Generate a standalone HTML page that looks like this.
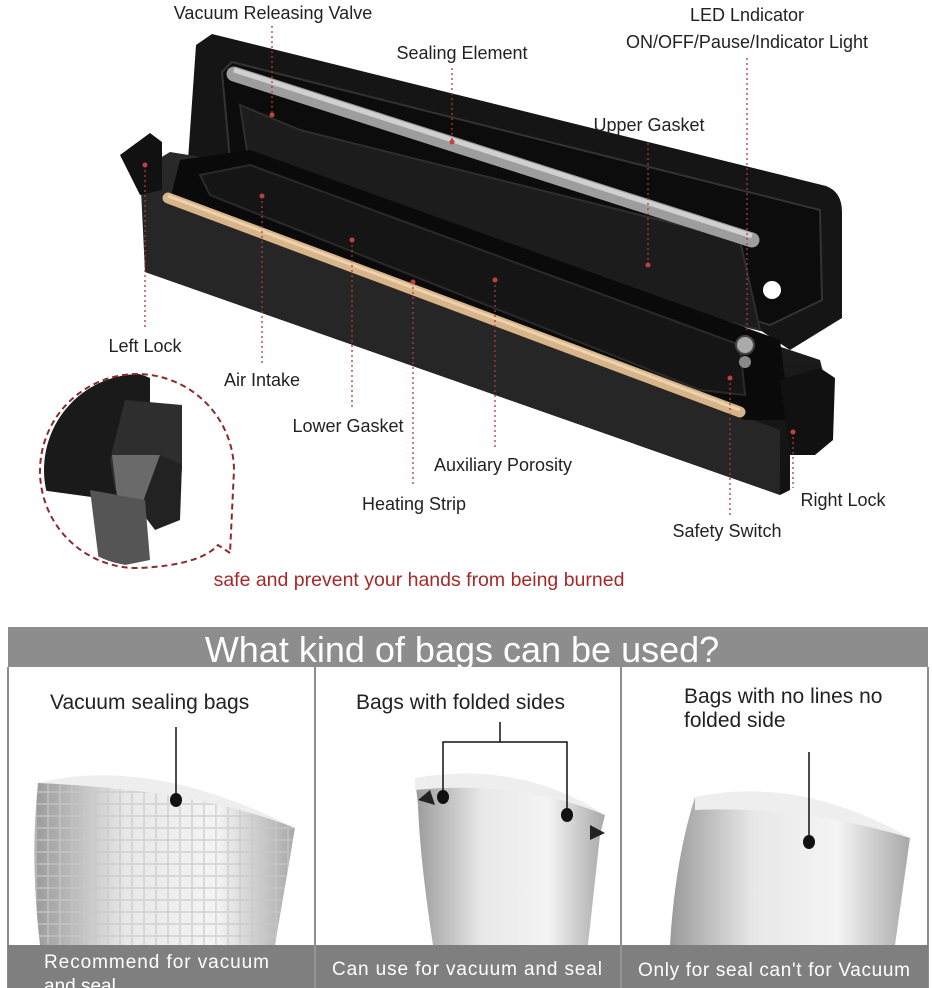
<!DOCTYPE html>
<html><head><meta charset="utf-8"><style>
html,body{margin:0;padding:0;background:#fff;}
svg{display:block;}
text{font-family:"Liberation Sans",sans-serif;}
</style></head><body>
<svg width="932" height="988" viewBox="0 0 932 988" xmlns="http://www.w3.org/2000/svg">
<defs>
<linearGradient id="bag" x1="0" x2="1" y1="0" y2="0">
<stop offset="0" stop-color="#9a9a9a"/><stop offset="0.35" stop-color="#e8e8e8"/><stop offset="0.7" stop-color="#f4f4f4"/><stop offset="1" stop-color="#a8a8a8"/></linearGradient>
<linearGradient id="base" x1="0" x2="0" y1="0" y2="1">
<stop offset="0" stop-color="#2a2a2a"/><stop offset="1" stop-color="#111"/></linearGradient>
<pattern id="grid" width="12" height="12" patternUnits="userSpaceOnUse"><rect width="12" height="12" fill="none" stroke="#c8c8c8" stroke-width="2"/></pattern>
<clipPath id="cc"><circle cx="140" cy="470" r="96"/></clipPath>
</defs>
<rect width="932" height="988" fill="#fff"/>
<!-- lid -->
<path d="M196,45 L212,34 L826,186 Q842,192 842,212 L842,318 L790,350 L760,330 L200,190 L188,160 Z" fill="#151515"/>
<path d="M222,72 L232,62 L820,210 L822,300 L770,325 L230,160 Z" fill="#0c0c0c" stroke="#333" stroke-width="2"/>
<path d="M240,105 L300,130 L740,240 L760,330 L720,320 L250,170 Z" fill="#1c1c1c" stroke="#2e2e2e" stroke-width="2"/>
<line x1="234" y1="74" x2="752" y2="240" stroke="#9d9d9d" stroke-width="15" stroke-linecap="round"/>
<line x1="234" y1="70" x2="752" y2="236" stroke="#d0d0d0" stroke-width="5"/>
<circle cx="772" cy="290" r="9" fill="#fff"/>
<!-- base -->
<path d="M140,170 L170,152 L220,160 L820,360 L830,400 L790,440 L790,490 L780,495 L145,272 Z" fill="url(#base)"/>
<path d="M145,190 L780,430 L780,495 L145,272 Z" fill="#262626"/>
<path d="M180,160 L250,150 L780,340 L790,420 L745,420 L170,200 Z" fill="#0a0a0a"/>
<path d="M200,175 L250,165 L740,345 L745,395 L700,390 L210,195 Z" fill="#151515" stroke="#2a2a2a" stroke-width="2"/>
<line x1="168" y1="198" x2="740" y2="412" stroke="#d8b48a" stroke-width="11" stroke-linecap="round"/>
<line x1="168" y1="196" x2="740" y2="410" stroke="#ecd2ad" stroke-width="3"/>
<path d="M120,155 L150,133 L162,142 L162,190 L140,195 Z" fill="#111"/>
<path d="M780,380 L820,368 L835,378 L833,440 L815,455 L790,455 Z" fill="#111"/>
<circle cx="745" cy="345" r="9" fill="#aaa" stroke="#444" stroke-width="2"/>
<circle cx="745" cy="362" r="6" fill="#888"/>
<!-- dotted leaders -->
<g stroke="#b03a3a" stroke-width="1.3" stroke-dasharray="2,3" fill="none">
<line x1="272" y1="26" x2="272" y2="115"/>
<line x1="452" y1="68" x2="452" y2="142"/>
<line x1="747" y1="58" x2="747" y2="330"/>
<line x1="648" y1="143" x2="648" y2="265"/>
<line x1="145" y1="165" x2="145" y2="330"/>
<line x1="262" y1="196" x2="262" y2="365"/>
<line x1="352" y1="240" x2="352" y2="410"/>
<line x1="495" y1="280" x2="495" y2="448"/>
<line x1="413" y1="282" x2="413" y2="486"/>
<line x1="730" y1="378" x2="730" y2="515"/>
<line x1="793" y1="432" x2="793" y2="488"/>
</g>
<g fill="#c04040">
<circle cx="272" cy="115" r="2.5"/><circle cx="452" cy="142" r="2.5"/><circle cx="648" cy="265" r="2.5"/>
<circle cx="145" cy="165" r="2.5"/><circle cx="262" cy="196" r="2.5"/><circle cx="352" cy="240" r="2.5"/>
<circle cx="495" cy="280" r="2.5"/><circle cx="413" cy="282" r="2.5"/><circle cx="730" cy="378" r="2.5"/><circle cx="793" cy="432" r="2.5"/>
</g>
<!-- zoom circle -->
<g clip-path="url(#cc)">
<rect x="40" y="370" width="200" height="200" fill="#fff"/>
<path d="M40,380 Q110,360 150,378 L150,505 L40,490 Z" fill="#1a1a1a"/>
<path d="M125,400 L182,405 L182,470 L160,490 L115,490 L110,460 Z" fill="#2e2e2e"/>
<path d="M112,455 L160,455 L160,505 L118,505 Z" fill="#6a6a6a"/>
<path d="M160,455 L182,465 L180,520 L155,530 L140,510 Z" fill="#222"/>
<path d="M90,490 L145,500 L150,560 L100,570 Z" fill="#555"/>
</g>
<path d="M230,553 L218,545 Q200,565 140,568 A97,97 0 1 1 234,470 Z" fill="none" stroke="#8a2a2a" stroke-width="2" stroke-dasharray="6,4"/>
<!-- labels -->
<g font-size="18" fill="#222" text-anchor="middle">
<text x="273" y="19">Vacuum Releasing Valve</text>
<text x="747" y="21">LED Lndicator</text>
<text x="747" y="48">ON/OFF/Pause/Indicator Light</text>
<text x="462" y="59">Sealing Element</text>
<text x="649" y="131">Upper Gasket</text>
<text x="145" y="352">Left Lock</text>
<text x="262" y="386">Air Intake</text>
<text x="348" y="432">Lower Gasket</text>
<text x="503" y="471">Auxiliary Porosity</text>
<text x="414" y="510">Heating Strip</text>
<text x="843" y="506">Right Lock</text>
<text x="727" y="537">Safety Switch</text>
</g>
<text x="419" y="586" font-size="19.5" fill="#a8282a" text-anchor="middle">safe and prevent your hands from being burned</text>
<!-- bottom section -->
<rect x="8" y="627" width="920" height="40" fill="#8d8d8d"/>
<text x="462" y="662" font-size="36" fill="#fff" text-anchor="middle">What kind of bags can be used?</text>
<g stroke="#8d8d8d" stroke-width="2"><line x1="8" y1="667" x2="8" y2="988"/><line x1="315" y1="667" x2="315" y2="988"/><line x1="621" y1="667" x2="621" y2="988"/><line x1="928" y1="667" x2="928" y2="988"/></g>
<!-- bag 1 -->
<path d="M38,783 Q150,760 295,828 L275,945 L40,945 Q30,860 38,783 Z" fill="url(#bag)"/>
<path d="M38,783 Q150,760 295,828 L275,945 L40,945 Q30,860 38,783 Z" fill="url(#grid)" opacity="0.6"/>
<path d="M38,783 Q150,755 295,828 Q200,790 38,783 Z" fill="#eee"/>
<!-- bag 2 -->
<path d="M415,778 Q520,770 605,815 L600,835 L588,945 L433,945 Q420,860 418,805 Z" fill="url(#bag)"/>
<path d="M415,778 Q520,760 605,815 Q520,780 415,790 Z" fill="#eee"/>
<path d="M418,800 L430,790 L435,805 Z M590,825 L605,833 L590,840 Z" fill="#222"/>
<!-- bag 3 -->
<path d="M695,797 Q790,790 910,838 L895,945 L670,945 Q675,860 695,797 Z" fill="url(#bag)"/>
<path d="M695,797 Q800,775 910,838 Q800,805 695,810 Z" fill="#eee"/>
<g stroke="#111" stroke-width="1.5" fill="none">
<line x1="176" y1="727" x2="176" y2="800"/>
<line x1="500" y1="722" x2="500" y2="742"/>
<polyline points="443,797 443,742 567,742 567,815"/>
<line x1="809" y1="752" x2="809" y2="840"/>
</g>
<g fill="#111"><ellipse cx="176" cy="800" rx="6" ry="7"/><ellipse cx="443" cy="797" rx="6" ry="7"/><ellipse cx="567" cy="815" rx="6" ry="7"/><ellipse cx="809" cy="842" rx="6" ry="7"/></g>
<g font-size="21" fill="#222">
<text x="50" y="709">Vacuum sealing bags</text>
<text x="356" y="709">Bags with folded sides</text>
<text x="684" y="703">Bags with no lines no</text>
<text x="684" y="727">folded side</text>
</g>
<rect x="8" y="945" width="920" height="43" fill="#7f7f7f"/>
<g stroke="#aaa" stroke-width="1"><line x1="315" y1="945" x2="315" y2="988"/><line x1="621" y1="945" x2="621" y2="988"/></g>
<g font-size="19" fill="#fff">
<text x="44" y="968" textLength="225">Recommend for vacuum</text>
<text x="44" y="992">and seal</text>
<text x="332" y="975" textLength="270">Can use for vacuum and seal</text>
<text x="638" y="976" textLength="272">Only for seal can't for Vacuum</text>
</g>
</svg>
</body></html>
